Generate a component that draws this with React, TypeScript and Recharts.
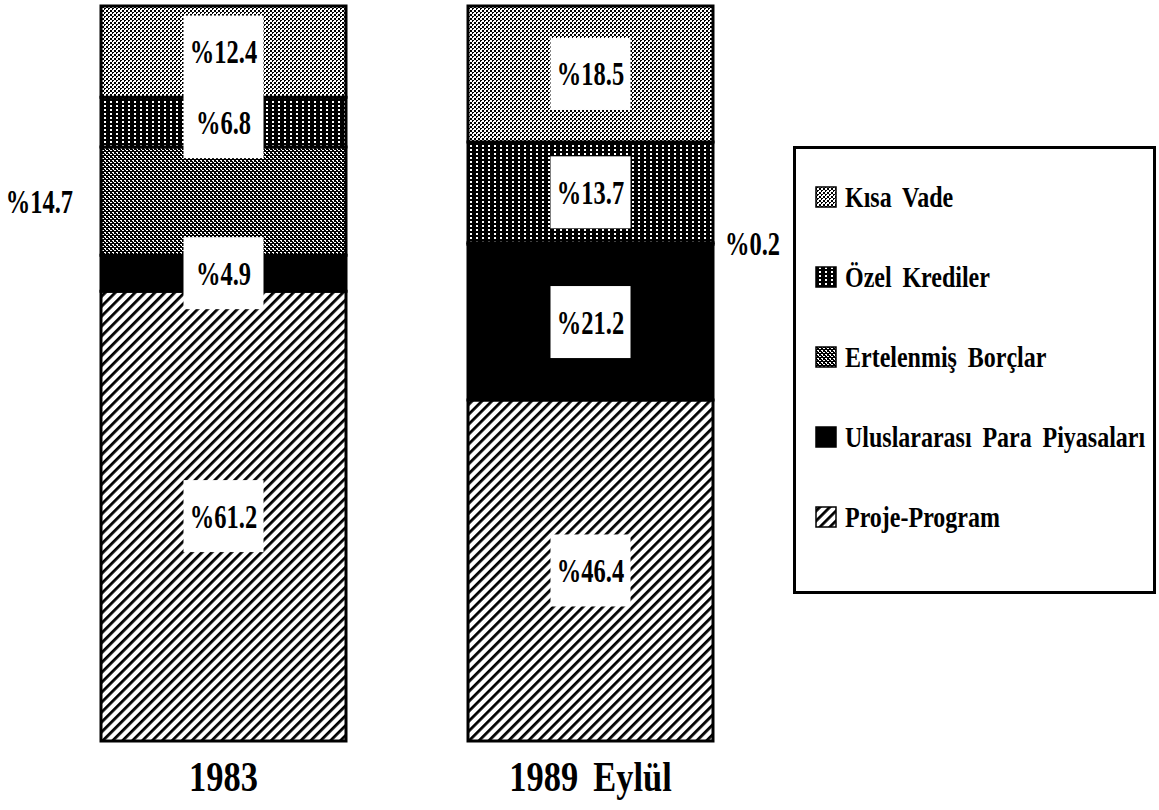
import React from 'react';
import { BarChart, Bar, XAxis, YAxis, LabelList, Legend } from 'recharts';

const categories = ['1983', '1989 Eylül'];
const kisaVade = [12.4, 18.5];
const ozelKrediler = [6.8, 13.7];
const ertelenmisBorclar = [14.7, 0.2];
const uluslararasiPara = [4.9, 21.2];
const projeProgram = [61.2, 46.4];

const seriesKeys = ['kisa', 'ozel', 'ert', 'ulus', 'proje'];
const seriesNames: Record<string, string> = {
  kisa: 'Kısa Vade',
  ozel: 'Özel Krediler',
  ert: 'Ertelenmiş Borçlar',
  ulus: 'Uluslararası Para Piyasaları',
  proje: 'Proje-Program',
};
const seriesValues: Record<string, number[]> = {
  kisa: kisaVade,
  ozel: ozelKrediler,
  ert: ertelenmisBorclar,
  ulus: uluslararasiPara,
  proje: projeProgram,
};

const data = categories.map((c, i) => ({
  name: c,
  proje: projeProgram[i],
  ulus: uluslararasiPara[i],
  ert: ertelenmisBorclar[i],
  ozel: ozelKrediler[i],
  kisa: kisaVade[i],
}));

// label placement (style): which labels sit outside the bar
const outsideLabel: Record<string, (string | null)[]> = {
  ert: ['left', 'right'],
};

const FONT = '"Liberation Serif", "Times New Roman", serif';

const Patterns = ({ p }: { p: string }) => (
  <defs>
    <pattern id={`${p}kisa`} width="4" height="4" patternUnits="userSpaceOnUse">
      <rect width="4" height="4" fill="#fff" />
      <rect x="0" y="0" width="2" height="2" fill="#000" />
      <rect x="2" y="2" width="2" height="2" fill="#000" />
      <rect x="1" y="1" width="1" height="1" fill="#fff" />
    </pattern>
    <pattern id={`${p}ozel`} width="6" height="4" patternUnits="userSpaceOnUse">
      <rect width="6" height="4" fill="#000" />
      <rect x="2" y="1" width="2" height="2" fill="#fff" />
    </pattern>
    <pattern id={`${p}ert`} width="4" height="4" patternUnits="userSpaceOnUse">
      <rect width="4" height="4" fill="#000" />
      <rect x="0" y="0" width="2" height="1" fill="#fff" />
      <rect x="2" y="2" width="2" height="1" fill="#fff" />
      <rect x="1" y="1" width="1" height="1" fill="#fff" />
    </pattern>
    <pattern id={`${p}ulus`} width="4" height="4" patternUnits="userSpaceOnUse">
      <rect width="4" height="4" fill="#000" />
    </pattern>
    <pattern
      id={`${p}proje`}
      width="7"
      height="7"
      patternUnits="userSpaceOnUse"
      patternTransform="rotate(45)"
    >
      <rect width="7" height="7" fill="#fff" />
      <rect x="0" y="0" width="2.8" height="7" fill="#000" />
    </pattern>
  </defs>
);

const LabelText = ({ x, y, anchor, text }: any) => (
  <text
    transform={`translate(${x}, ${y}) scale(0.72, 1)`}
    textAnchor={anchor}
    dominantBaseline="central"
    fontFamily={FONT}
    fontWeight="bold"
    fontSize={34}
    fill="#000"
  >
    {text}
  </text>
);

const makeLabel = (key: string) => (props: any) => {
  const { x, y, width, height, index } = props;
  const v = seriesValues[key][index];
  const txt = `%${v}`;
  const cx = Number(x) + Number(width) / 2;
  const cy = Number(y) + Number(height) / 2;
  const side = outsideLabel[key] ? outsideLabel[key][index] : null;
  if (side === 'left') {
    return <LabelText x={Number(x) - 28} y={cy} anchor="end" text={txt} />;
  }
  if (side === 'right') {
    return <LabelText x={Number(x) + Number(width) + 12} y={cy} anchor="start" text={txt} />;
  }
  const bw = 80;
  const bh = 72;
  return (
    <g>
      <rect x={cx - bw / 2} y={cy - bh / 2} width={bw} height={bh} fill="#fff" />
      <LabelText x={cx} y={cy} anchor="middle" text={txt} />
    </g>
  );
};

const XTick = (props: any) => {
  const { x, y, payload } = props;
  return (
    <text
      transform={`translate(${x}, ${Number(y) + 42}) scale(0.82, 1)`}
      textAnchor="middle"
      fontFamily={FONT}
      fontWeight="bold"
      fontSize={42}
      fill="#000"
      style={{ wordSpacing: 8 }}
    >
      {payload.value}
    </text>
  );
};

const LegendBox = () => (
  <svg width={363} height={448} style={{ display: 'block' }}>
    <Patterns p="lg-" />
    <rect x={1.5} y={1.5} width={360} height={445} fill="#fff" stroke="#000" strokeWidth={3} />
    {seriesKeys.map((k, i) => {
      const cy = 51 + i * 80;
      return (
        <g key={k}>
          <rect x={23} y={cy - 10} width={20} height={20} fill={`url(#lg-${k})`} stroke="#000" strokeWidth={1.5} />
          <text
            transform={`translate(52, ${cy}) scale(0.8, 1)`}
            dominantBaseline="central"
            fontFamily={FONT}
            fontWeight="bold"
            fontSize={30}
            fill="#000"
            style={{ wordSpacing: 6 }}
          >
            {seriesNames[k]}
          </text>
        </g>
      );
    })}
  </svg>
);

const stackOrder = ['proje', 'ulus', 'ert', 'ozel', 'kisa'];

export default function App() {
  return (
    <div style={{ position: 'absolute', left: 0, top: 0, width: 1159, height: 810, background: '#fff' }}>
      <BarChart
        width={1159}
        height={810}
        data={data}
        margin={{ top: 6, right: 385, left: 40, bottom: 9 }}
        barSize={245}
      >
        <Patterns p="ch-" />
        <XAxis
          dataKey="name"
          axisLine={false}
          tickLine={false}
          tick={<XTick />}
          height={60}
          interval={0}
        />
        <YAxis hide domain={[0, 100]} />
        <Legend
          layout="vertical"
          align="center"
          verticalAlign="middle"
          wrapperStyle={{ left: 793, top: 146, width: 363, height: 448 }}
          content={() => <LegendBox />}
        />
        {stackOrder.map((k) => (
          <Bar
            key={k}
            dataKey={k}
            name={seriesNames[k]}
            stackId="a"
            fill={`url(#ch-${k})`}
            stroke="#000"
            strokeWidth={3}
            isAnimationActive={false}
          >
            <LabelList dataKey={k} content={makeLabel(k)} />
          </Bar>
        ))}
      </BarChart>
    </div>
  );
}
